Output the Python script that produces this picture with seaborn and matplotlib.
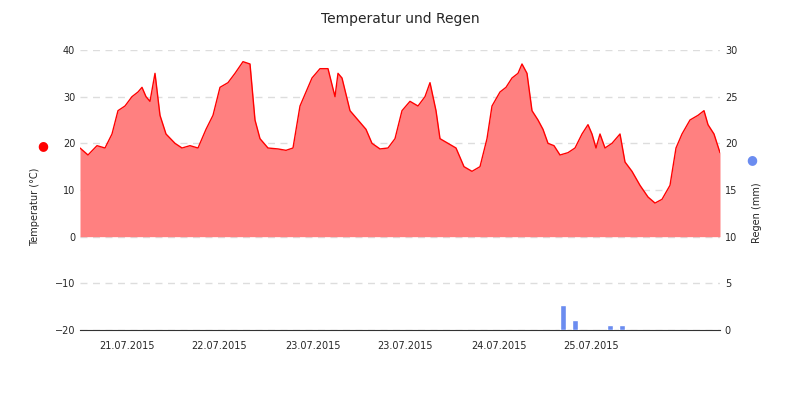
import matplotlib
matplotlib.use("Agg")
import matplotlib.pyplot as plt
import seaborn as sns
import numpy as np
import pandas as pd

px = [80,88,97,105,112,118,125,132,138,142,146,150,155,160,166,175,182,190,198,206,213,220,228,235,243,250,255,260,268,278,286,293,300,306,312,320,328,335,338,342,350,358,366,372,380,388,395,402,410,418,425,430,436,440,448,456,464,472,480,487,492,500,506,512,518,522,527,532,538,543,548,554,560,568,575,582,588,592,596,600,605,612,620,625,632,640,648,655,662,670,676,682,690,698,704,708,714,720]
temp = [19,17.5,19.5,19,22,27,28,30,31,32,30,29,35,26,22,20,19,19.5,19,23,26,32,33,35,37.5,37,25,21,19,18.8,18.5,19,28,31,34,36,36,30,35,34,27,25,23,20,18.8,19,21,27,29,28,30,33,27,21,20,19,15,14,15,21,28,31,32,34,35,37,35,27,25,23,20,19.5,17.5,18,19,22,24,22,19,22,19,20,22,16,14,11,8.5,7.2,8,11,19,22,25,26,27,24,22,18]
hours = [(p-80)/93*24 for p in px]
rain_px = [563,575,610,622]
rain = [2.7,1.1,0.5,0.5]
rain_hours = [(p-80)/93*24 for p in rain_px]
tick_labels = ["21.07.2015","22.07.2015","23.07.2015","23.07.2015","24.07.2015","25.07.2015"]

sns.set_style("white")
plt.rcParams['font.family'] = ['DejaVu Sans']
fig = plt.figure(figsize=(8,4), dpi=100)
ax = fig.add_axes([0.1, 0.175, 0.8, 0.7])
df = pd.DataFrame({"h": hours, "t": temp})
ax.fill_between(df.h, 0, df.t, color="#ff8080", lw=0)
sns.lineplot(data=df, x="h", y="t", ax=ax, color="red", lw=1)
ax.set_xlim(0, 640/93*24)
ax.set_ylim(-20, 40)
ax.set_yticks([-20,-10,0,10,20,30,40])
ax.grid(axis="y", ls=(0,(5,4)), color="#dddddd", lw=1)
ax.set_xticks([24*k for k in range(7)])
ax.set_xticks([12+24*k for k in range(6)], minor=True)
ax.set_xticklabels([])
ax.set_xticklabels(tick_labels, minor=True)
ax.tick_params(axis="x", which="major", length=5, color="#333")
ax.tick_params(axis="x", which="minor", length=0, labelsize=7, pad=8)
ax.tick_params(axis="y", labelsize=7, length=0)
for s in ["left","right","top"]:
    ax.spines[s].set_visible(False)
ax.spines["bottom"].set_color("#333")
ax.set_xlabel("")
ax.set_ylabel("Temperatur (°C)", fontsize=7)
ax.yaxis.set_label_coords(-0.062, 0.44)
ax2 = ax.twinx()
ax2.bar(rain_hours, rain, width=1.7, color="#6b8cf0")
ax2.set_ylim(0, 30)
ax2.set_yticks([0,5,10,15,20,25,30])
ax2.tick_params(axis="y", labelsize=7, length=0)
for s in ["left","right","top","bottom"]:
    ax2.spines[s].set_visible(False)
ax2.set_ylabel("Regen (mm)", fontsize=7)
ax2.yaxis.set_label_coords(1.05, 0.42)
fig.text(0.054, 0.635, "●", color="red", fontsize=9, ha="center", va="center")
fig.text(0.94, 0.6, "●", color="#6b8cf0", fontsize=9, ha="center", va="center")
fig.suptitle("Temperatur und Regen", y=0.97, fontsize=10)
fig.savefig("out.png")
